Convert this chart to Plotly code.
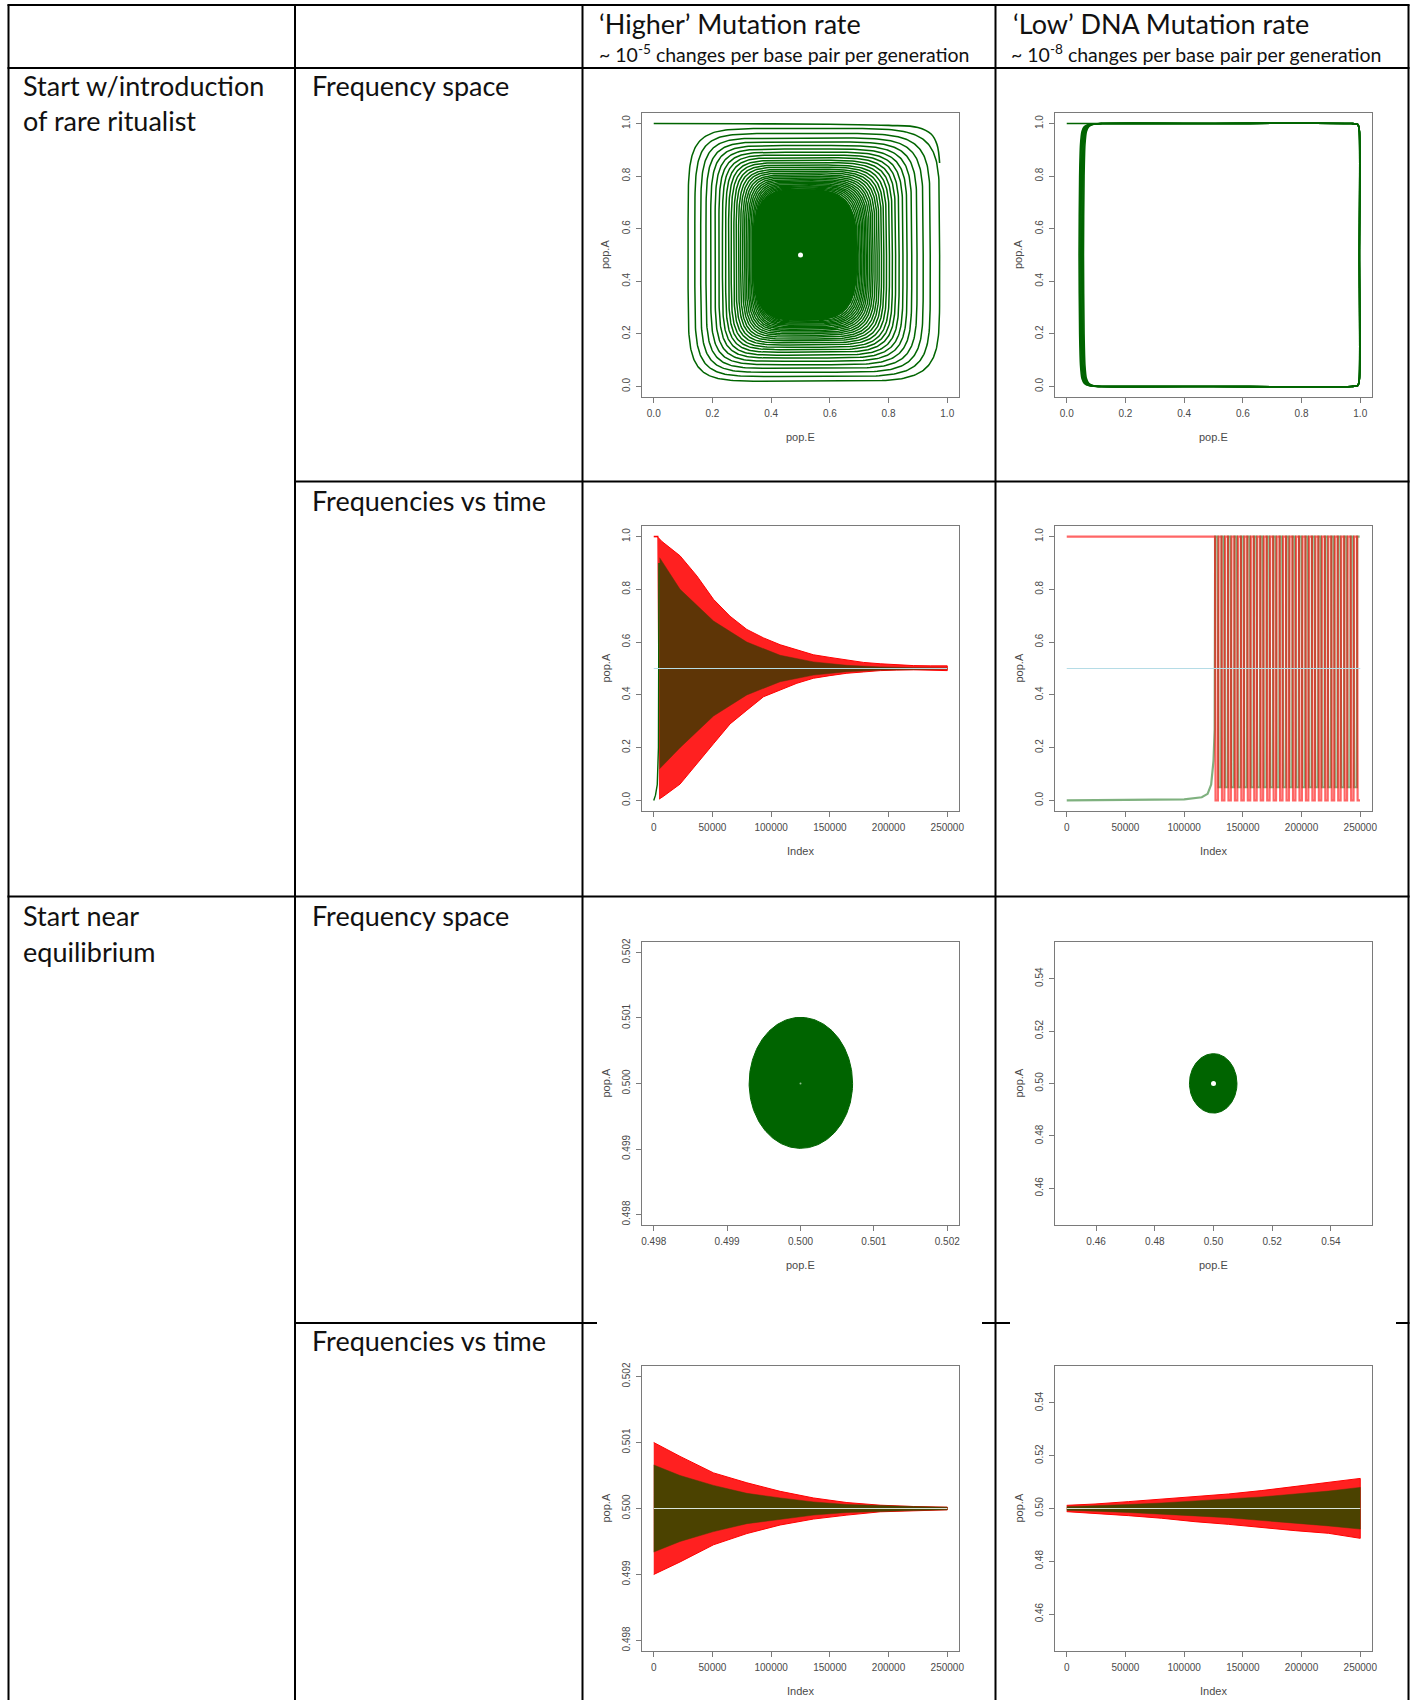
import numpy as np
import plotly.graph_objects as go

# ---------------- data ----------------
# Panel 1: 'Higher' mutation, rare ritualist, frequency space (pop.E vs pop.A)
# extreme values reached on each successive turn of the spiral
hi_rare_loop_right = [0.974, 0.942, 0.918, 0.897, 0.879, 0.863, 0.849, 0.836, 0.824, 0.813,
                      0.803, 0.793, 0.784, 0.776, 0.768, 0.761, 0.754, 0.747, 0.741, 0.735,
                      0.729, 0.724, 0.719, 0.714, 0.709, 0.704, 0.699, 0.694, 0.689, 0.684]
hi_rare_loop_left = [0.117, 0.140, 0.160, 0.178, 0.194, 0.209, 0.222, 0.234, 0.245, 0.255,
                     0.264, 0.273, 0.281, 0.289, 0.296, 0.303, 0.309, 0.315, 0.321, 0.326,
                     0.331, 0.336, 0.340, 0.344, 0.347, 0.350, 0.353, 0.356, 0.359, 0.362]
hi_rare_loop_top = [0.981, 0.962, 0.945, 0.930, 0.916, 0.903, 0.891, 0.880, 0.870, 0.860,
                    0.851, 0.842, 0.834, 0.826, 0.819, 0.812, 0.805, 0.799, 0.793, 0.787,
                    0.782, 0.777, 0.772, 0.767, 0.763, 0.759, 0.755, 0.751, 0.747, 0.743]
hi_rare_loop_bottom = [0.020, 0.038, 0.054, 0.069, 0.083, 0.096, 0.108, 0.119, 0.130, 0.140,
                       0.149, 0.158, 0.166, 0.174, 0.181, 0.188, 0.195, 0.201, 0.207, 0.213,
                       0.218, 0.223, 0.228, 0.233, 0.237, 0.241, 0.245, 0.249, 0.253, 0.257]
hi_rare_core = [0.338, 0.692, 0.252, 0.748]          # dense centre: E min, E max, A min, A max
hi_rare_start_E = [0.0, 0.3, 0.6, 0.8, 0.9, 0.945, 0.965, 0.974]
hi_rare_start_A = [1.0, 0.999, 0.997, 0.993, 0.985, 0.96, 0.92, 0.85]
equilibrium = [0.5, 0.5]

# Panel 2: 'Low' mutation, rare ritualist, frequency space: one cycle of the orbit
lo_rare_cycle_E = [0.12, 0.50, 0.97, 0.992, 0.997, 0.997, 0.997, 0.992, 0.97, 0.50, 0.12,
                   0.085, 0.068, 0.060, 0.055, 0.052, 0.050, 0.052, 0.055, 0.060, 0.068, 0.085, 0.12]
lo_rare_cycle_A = [1.0, 1.0, 1.0, 0.996, 0.97, 0.50, 0.03, 0.004, 0.0, 0.0, 0.0,
                   0.003, 0.012, 0.03, 0.08, 0.20, 0.50, 0.80, 0.92, 0.97, 0.988, 0.997, 1.0]
lo_rare_left_shift = [-0.008, -0.005, -0.002, 0.001, 0.004, 0.007]   # successive cycles on left side
lo_rare_start_E = [0.0, 0.12]
lo_rare_start_A = [1.0, 1.0]

# Panel 3: 'Higher' mutation, rare ritualist, frequencies vs time
hi_rare_t_up = [3000, 6800, 22400, 36700, 50900, 65000, 79300, 93500, 107700, 121900,
                136000, 150000, 164500, 178700, 192900, 207000, 221300, 235500, 250000]
hi_rare_red_up = [1.0, 0.982, 0.927, 0.851, 0.762, 0.698, 0.648, 0.616, 0.590, 0.571,
                  0.552, 0.542, 0.531, 0.523, 0.518, 0.514, 0.511, 0.510, 0.510]
hi_rare_t_lo = [4500, 8000, 22400, 36700, 50900, 65000, 79300, 93500, 107700, 121900,
                136000, 150000, 164500, 178700, 192900, 207000, 221300, 235500, 250000]
hi_rare_red_lo = [0.005, 0.015, 0.062, 0.139, 0.215, 0.290, 0.342, 0.393, 0.419, 0.444,
                  0.463, 0.473, 0.482, 0.487, 0.492, 0.494, 0.495, 0.494, 0.492]
hi_rare_t_mix = [5000, 22400, 50900, 79300, 107700, 136000, 164500, 192900, 221300, 250000]
hi_rare_mix_up = [0.92, 0.80, 0.68, 0.60, 0.55, 0.525, 0.512, 0.506, 0.503, 0.502]
hi_rare_mix_lo = [0.12, 0.20, 0.32, 0.40, 0.45, 0.475, 0.488, 0.494, 0.497, 0.498]
hi_rare_red_start_t = [0, 4000]
hi_rare_red_start = [1.0, 1.0]
hi_rare_green_start_t = [0, 1500, 3000, 4000, 4500]
hi_rare_green_start = [0.0, 0.02, 0.06, 0.2, 0.9]

# Panel 4: 'Low' mutation, rare ritualist, frequencies vs time
lo_rare_red_init_t = [0, 126000]
lo_rare_red_init = [1.0, 1.0]
lo_rare_green_init_t = [0, 60000, 100000, 115000, 120000, 123000, 125000, 126000]
lo_rare_green_init = [0.0, 0.001, 0.004, 0.012, 0.025, 0.06, 0.15, 0.27]
lo_rare_cycle_start = [126300, 131800, 137300, 142800, 148300, 153800, 159300, 164800,
                       170300, 175800, 181300, 186800, 192300, 197800, 203300, 208800,
                       214300, 219800, 225300, 230800, 236300, 241800, 247300]
red_cycle_phase = [0.0, 0.08, 0.45, 0.55, 1.0]
red_cycle_level = [1.0, 0.0, 0.0, 1.0, 1.0]
green_cycle_phase = [0.02, 0.40, 0.55, 0.95]
green_cycle_level = [1.0, 1.0, 0.05, 0.05]

# Panel 5 / 6: start near equilibrium, frequency space (E min, E max, A min, A max)
hi_eq_disc = [0.49930, 0.50071, 0.49901, 0.50101]
lo_eq_disc = [0.4918, 0.5080, 0.4887, 0.5114]

# Panel 7: 'Higher' mutation, near equilibrium, vs time
hi_eq_t = [0, 22400, 50900, 79300, 107700, 136000, 164500, 192900, 221300, 250000]
hi_eq_red_up = [0.50100, 0.50079, 0.50054, 0.50039, 0.50026, 0.50016, 0.50009, 0.50005, 0.50003, 0.50002]
hi_eq_red_lo = [0.49900, 0.49919, 0.49945, 0.49962, 0.49975, 0.49984, 0.49990, 0.49995, 0.49997, 0.49998]
hi_eq_mix_up = [0.50066, 0.50050, 0.50035, 0.50023, 0.50016, 0.50010, 0.50006, 0.50004, 0.50003, 0.50002]
hi_eq_mix_lo = [0.49934, 0.49950, 0.49965, 0.49977, 0.49984, 0.49990, 0.49994, 0.49996, 0.49997, 0.49998]

# Panel 8: 'Low' mutation, near equilibrium, vs time
lo_eq_t = [0, 24100, 52500, 80900, 109300, 137800, 166200, 194600, 223000, 250000]
lo_eq_red_up = [0.5012, 0.5017, 0.5026, 0.5035, 0.5045, 0.5055, 0.5068, 0.5083, 0.5098, 0.5114]
lo_eq_red_lo = [0.4988, 0.4982, 0.4973, 0.4963, 0.4950, 0.4940, 0.4929, 0.4916, 0.4906, 0.4887]
lo_eq_mix_up = [0.5007, 0.5010, 0.5015, 0.5021, 0.5028, 0.5035, 0.5044, 0.5055, 0.5066, 0.5080]
lo_eq_mix_lo = [0.4993, 0.4990, 0.4985, 0.4979, 0.4972, 0.4965, 0.4956, 0.4945, 0.4934, 0.4922]

t_span = [0, 250000]
mid_level = [0.5, 0.5]

# tick labels
ticks_01 = [0.0, 0.2, 0.4, 0.6, 0.8, 1.0]
ticks_01_text = ["0.0", "0.2", "0.4", "0.6", "0.8", "1.0"]
ticks_idx = [0, 50000, 100000, 150000, 200000, 250000]
ticks_idx_text = ["0", "50000", "100000", "150000", "200000", "250000"]
ticks_fine = [0.498, 0.499, 0.500, 0.501, 0.502]
ticks_fine_text = ["0.498", "0.499", "0.500", "0.501", "0.502"]
ticks_mid = [0.46, 0.48, 0.50, 0.52, 0.54]
ticks_mid_text = ["0.46", "0.48", "0.50", "0.52", "0.54"]

# ---------------- figure ----------------
W, H = 1413, 1700
def PX(x): return x / W
def PY(y): return 1 - y / H

DARKGREEN = "#006400"
RED = "#ff0000"

fig = go.Figure()

def add(tr, k):
    tr.update(xaxis="x" if k == 1 else f"x{k}", yaxis="y" if k == 1 else f"y{k}",
              showlegend=False, hoverinfo="skip")
    fig.add_trace(tr)

def rounded(xl, xr, yb, yt, n, cx=0.5, cy=0.5, m=240):
    t = np.linspace(0, 2 * np.pi, m)
    c, s = np.cos(t), np.sin(t)
    u = np.sign(c) * np.abs(c) ** (2.0 / n)
    v = np.sign(s) * np.abs(s) ** (2.0 / n)
    x = np.where(u >= 0, cx + u * (xr - cx), cx + u * (cx - xl))
    y = np.where(v >= 0, cy + v * (yt - cy), cy + v * (cy - yb))
    return list(x), list(y)

def band(xu, yu, xl, yl):
    return list(xu) + list(xl)[::-1], list(yu) + list(yl)[::-1]

# ---- Panel 1
lx, ly = [], []
nl = len(hi_rare_loop_right)
for i in range(nl):
    n_exp = 6.5 - 3.0 * i / (nl - 1)
    x, y = rounded(hi_rare_loop_left[i], hi_rare_loop_right[i],
                   hi_rare_loop_bottom[i], hi_rare_loop_top[i], n_exp)
    lx += x + [None]
    ly += y + [None]
add(go.Scatter(x=lx, y=ly, mode="lines", line=dict(color=DARKGREEN, width=1.5)), 1)
cx_, cy_ = rounded(hi_rare_core[0], hi_rare_core[1], hi_rare_core[2], hi_rare_core[3], 3.3)
add(go.Scatter(x=cx_, y=cy_, mode="lines", fill="toself", fillcolor=DARKGREEN,
               line=dict(color=DARKGREEN, width=1)), 1)
add(go.Scatter(x=hi_rare_start_E, y=hi_rare_start_A, mode="lines",
               line=dict(color=DARKGREEN, width=1.6, shape="spline")), 1)
add(go.Scatter(x=[equilibrium[0]], y=[equilibrium[1]], mode="markers",
               marker=dict(color="white", size=5)), 1)

# ---- Panel 2
cx2, cy2 = [], []
for sh in lo_rare_left_shift:
    xs = [e + sh if e < 0.1 else e for e in lo_rare_cycle_E]
    cx2 += xs + [None]
    cy2 += lo_rare_cycle_A + [None]
add(go.Scatter(x=cx2, y=cy2, mode="lines",
               line=dict(color=DARKGREEN, width=1.6, shape="spline", smoothing=0.6)), 2)
add(go.Scatter(x=lo_rare_start_E, y=lo_rare_start_A, mode="lines",
               line=dict(color=DARKGREEN, width=1.6)), 2)

# ---- Panel 3
bx, by = band(hi_rare_t_up, hi_rare_red_up, hi_rare_t_lo, hi_rare_red_lo)
add(go.Scatter(x=bx, y=by, mode="lines", fill="toself", fillcolor="rgba(255,20,20,0.95)",
               line=dict(color=RED, width=1)), 3)
bx, by = band(hi_rare_t_mix, hi_rare_mix_up, hi_rare_t_mix, hi_rare_mix_lo)
add(go.Scatter(x=bx, y=by, mode="lines", fill="toself", fillcolor="#5e3506",
               line=dict(color="#5e3506", width=0.5)), 3)
add(go.Scatter(x=hi_rare_red_start_t, y=hi_rare_red_start, mode="lines",
               line=dict(color=RED, width=1.6)), 3)
add(go.Scatter(x=hi_rare_green_start_t, y=hi_rare_green_start, mode="lines",
               line=dict(color=DARKGREEN, width=1.4)), 3)
add(go.Scatter(x=t_span, y=mid_level, mode="lines", line=dict(color="#b5dce6", width=1)), 3)

# ---- Panel 4
rx, ry = list(lo_rare_red_init_t), list(lo_rare_red_init)
gx, gy = list(lo_rare_green_init_t), list(lo_rare_green_init)
starts = lo_rare_cycle_start
for k, s in enumerate(starts):
    per = (starts[k + 1] - s) if k + 1 < len(starts) else (s - starts[k - 1])
    for ph, lv in zip(red_cycle_phase, red_cycle_level):
        t = s + ph * per
        if t <= t_span[1]:
            rx.append(t); ry.append(lv)
    for ph, lv in zip(green_cycle_phase, green_cycle_level):
        t = s + ph * per
        if t <= t_span[1]:
            gx.append(t); gy.append(lv)
add(go.Scatter(x=gx, y=gy, mode="lines", line=dict(color="rgba(0,100,0,0.5)", width=2.2)), 4)
add(go.Scatter(x=rx, y=ry, mode="lines", line=dict(color="rgba(255,0,0,0.6)", width=2.2)), 4)
add(go.Scatter(x=t_span, y=mid_level, mode="lines", line=dict(color="#b5dce6", width=1)), 4)

# ---- Panel 5
ex, ey = rounded(hi_eq_disc[0], hi_eq_disc[1], hi_eq_disc[2], hi_eq_disc[3], 2.0,
                 cx=equilibrium[0], cy=equilibrium[1])
add(go.Scatter(x=ex, y=ey, mode="lines", fill="toself", fillcolor=DARKGREEN,
               line=dict(color=DARKGREEN, width=1)), 5)
add(go.Scatter(x=[equilibrium[0]], y=[equilibrium[1]], mode="markers",
               marker=dict(color="#8fc08f", size=2)), 5)

# ---- Panel 6
ex, ey = rounded(lo_eq_disc[0], lo_eq_disc[1], lo_eq_disc[2], lo_eq_disc[3], 2.0,
                 cx=equilibrium[0], cy=equilibrium[1])
add(go.Scatter(x=ex, y=ey, mode="lines", fill="toself", fillcolor=DARKGREEN,
               line=dict(color=DARKGREEN, width=1)), 6)
add(go.Scatter(x=[equilibrium[0]], y=[equilibrium[1]], mode="markers",
               marker=dict(color="white", size=5)), 6)

# ---- Panel 7
bx, by = band(hi_eq_t, hi_eq_red_up, hi_eq_t, hi_eq_red_lo)
add(go.Scatter(x=bx, y=by, mode="lines", fill="toself", fillcolor="rgba(255,20,20,0.95)",
               line=dict(color=RED, width=1)), 7)
bx, by = band(hi_eq_t, hi_eq_mix_up, hi_eq_t, hi_eq_mix_lo)
add(go.Scatter(x=bx, y=by, mode="lines", fill="toself", fillcolor="#4b4200",
               line=dict(color="#4b4200", width=0.5)), 7)
add(go.Scatter(x=t_span, y=mid_level, mode="lines", line=dict(color="#d8e4dc", width=1)), 7)

# ---- Panel 8
bx, by = band(lo_eq_t, lo_eq_red_up, lo_eq_t, lo_eq_red_lo)
add(go.Scatter(x=bx, y=by, mode="lines", fill="toself", fillcolor="rgba(255,20,20,0.95)",
               line=dict(color=RED, width=1)), 8)
bx, by = band(lo_eq_t, lo_eq_mix_up, lo_eq_t, lo_eq_mix_lo)
add(go.Scatter(x=bx, y=by, mode="lines", fill="toself", fillcolor="#4b4200",
               line=dict(color="#4b4200", width=0.5)), 8)
add(go.Scatter(x=t_span, y=mid_level, mode="lines", line=dict(color="#d8e4dc", width=1)), 8)

# ---------------- axes ----------------
cols = [(642, 959), (1055, 1372)]
rows = [(113, 397), (526, 811), (942, 1225), (1366, 1651)]
r01 = [-0.04, 1.04]
ridx = [-10000, 260000]
rfine = [0.49784, 0.50216]
rmid = [0.446, 0.554]
panels = [
    # (row, col, xrange, xticks, xtext, xtitle, yrange, yticks, ytext)
    (0, 0, r01, ticks_01, ticks_01_text, "pop.E", r01, ticks_01, ticks_01_text),
    (0, 1, r01, ticks_01, ticks_01_text, "pop.E", r01, ticks_01, ticks_01_text),
    (1, 0, ridx, ticks_idx, ticks_idx_text, "Index", r01, ticks_01, ticks_01_text),
    (1, 1, ridx, ticks_idx, ticks_idx_text, "Index", r01, ticks_01, ticks_01_text),
    (2, 0, rfine, ticks_fine, ticks_fine_text, "pop.E", rfine, ticks_fine, ticks_fine_text),
    (2, 1, rmid, ticks_mid, ticks_mid_text, "pop.E", rmid, ticks_mid, ticks_mid_text),
    (3, 0, ridx, ticks_idx, ticks_idx_text, "Index", rfine, ticks_fine, ticks_fine_text),
    (3, 1, ridx, ticks_idx, ticks_idx_text, "Index", rmid, ticks_mid, ticks_mid_text),
]
AXC = "#7a7a7a"
TICKFONT = dict(family="Liberation Sans, Arial, sans-serif", size=10, color="#4a4a4a")
TITLEFONT = dict(family="Liberation Sans, Arial, sans-serif", size=11, color="#4a4a4a")
annotations = []
layout_axes = {}
for k, (r, c, xr, xt, xtt, xtitle, yr, yt, ytt) in enumerate(panels, start=1):
    x0, x1 = cols[c]
    y0, y1 = rows[r]
    xname = "xaxis" if k == 1 else f"xaxis{k}"
    yname = "yaxis" if k == 1 else f"yaxis{k}"
    common = dict(showline=True, mirror=True, linecolor=AXC, linewidth=1, ticks="outside",
                  ticklen=5, tickwidth=1, tickcolor=AXC, tickfont=TICKFONT, showgrid=False,
                  zeroline=False, fixedrange=True, automargin=False)
    layout_axes[xname] = dict(domain=[PX(x0), PX(x1)], range=xr, tickvals=xt, ticktext=xtt,
                              anchor="y" if k == 1 else f"y{k}", ticklabelstandoff=2, **common)
    layout_axes[yname] = dict(domain=[PY(y1), PY(y0)], range=yr, tickvals=yt, ticktext=ytt,
                              anchor="x" if k == 1 else f"x{k}", tickangle=-90,
                              ticklabelstandoff=2, **common)
    annotations.append(dict(xref="paper", yref="paper", x=PX((x0 + x1) / 2), y=PY(y1 + 40),
                            text=xtitle, showarrow=False, xanchor="center", yanchor="middle",
                            font=TITLEFONT))
    annotations.append(dict(xref="paper", yref="paper", x=PX(x0 - 37), y=PY((y0 + y1) / 2),
                            text="pop.A", showarrow=False, xanchor="center", yanchor="middle",
                            textangle=-90, font=TITLEFONT))

# ---------------- table text ----------------
BIG = dict(family="Lato, sans-serif", size=27, color="#111111")
SMALL = dict(family="Lato, sans-serif", size=19.5, color="#111111")
def txt(x, y, s, font):
    annotations.append(dict(xref="paper", yref="paper", x=PX(x), y=PY(y), text=s,
                            showarrow=False, xanchor="left", yanchor="middle", font=font))

txt(597, 23.5, "‘Higher’ Mutation rate", BIG)
txt(597, 54, "~ 10<sup>-5</sup> changes per base pair per generation", SMALL)
txt(1011, 23.5, "‘Low’ DNA Mutation rate", BIG)
txt(1009, 54, "~ 10<sup>-8</sup> changes per base pair per generation", SMALL)
txt(21, 85.5, "Start w/introduction", BIG)
txt(21, 120.5, "of rare ritualist", BIG)
txt(310, 85.5, "Frequency space", BIG)
txt(310, 501, "Frequencies vs time", BIG)
txt(21, 915.5, "Start near", BIG)
txt(21, 951, "equilibrium", BIG)
txt(310, 915.5, "Frequency space", BIG)
txt(310, 1340.5, "Frequencies vs time", BIG)

# ---------------- table lines ----------------
shapes = []
def hline(y, x0, x1):
    shapes.append(dict(type="line", xref="paper", yref="paper", x0=PX(x0), x1=PX(x1),
                       y0=PY(y), y1=PY(y), line=dict(color="black", width=2)))
def vline(x, y0, y1):
    shapes.append(dict(type="line", xref="paper", yref="paper", x0=PX(x), x1=PX(x),
                       y0=PY(y0), y1=PY(y1), line=dict(color="black", width=2)))

for xv in [8.5, 295, 582.5, 995.5, 1408.5]:
    vline(xv, 4.5, 1700)
hline(5, 7.5, 1409.5)
hline(68, 7.5, 1409.5)
hline(481.5, 295, 1409.5)
hline(896.5, 7.5, 1409.5)
hline(1323, 295, 597)
hline(1323, 982, 1010)
hline(1323, 1396, 1409.5)

fig.update_layout(width=W, height=H, margin=dict(l=0, r=0, t=0, b=0, pad=0, autoexpand=False),
                  paper_bgcolor="white", plot_bgcolor="white", showlegend=False,
                  annotations=annotations, shapes=shapes, **layout_axes)

fig.write_html("out.html")
